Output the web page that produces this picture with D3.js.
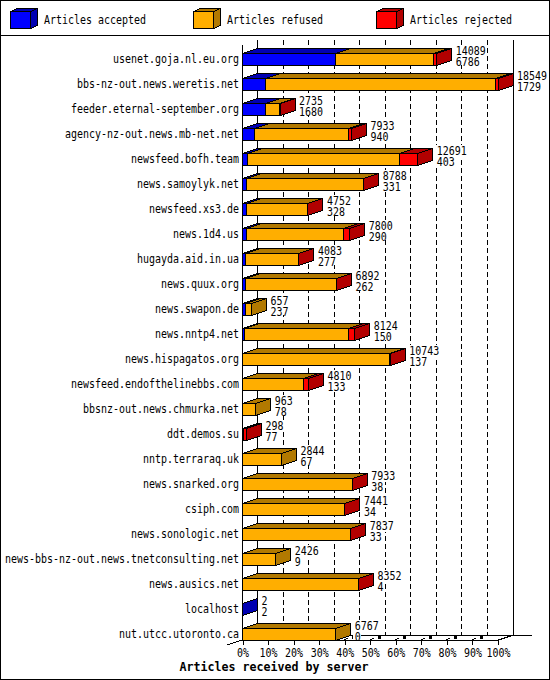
<!DOCTYPE html>
<html>
<head>
<meta charset="utf-8">
<script src="https://cdn.jsdelivr.net/npm/d3@7"></script>
<style>
  html, body { margin: 0; padding: 0; background: #fff; }
  svg { display: block; }
  text { font-family: "DejaVu Sans Mono", monospace; font-size: 12px; fill: #000; }
  .title { font-weight: bold; }
</style>
</head>
<body>
<div id="chart"></div>
<script>
// Articles received by server

var servers = ["usenet.goja.nl.eu.org", "bbs-nz-out.news.weretis.net", "feeder.eternal-september.org",
  "agency-nz-out.news.mb-net.net", "newsfeed.bofh.team", "news.samoylyk.net", "newsfeed.xs3.de",
  "news.1d4.us", "hugayda.aid.in.ua", "news.quux.org", "news.swapon.de", "news.nntp4.net",
  "news.hispagatos.org", "newsfeed.endofthelinebbs.com", "bbsnz-out.news.chmurka.net", "ddt.demos.su",
  "nntp.terraraq.uk", "news.snarked.org", "csiph.com", "news.sonologic.net",
  "news-bbs-nz-out.news.tnetconsulting.net", "news.ausics.net", "localhost", "nut.utcc.utoronto.ca"];

// widths in percent
var acceptedPct = [36.4, 8.9, 8.9, 4.6, 1.9, 1.6, 1.6, 1.6, 1.1, 1.1, 1.1, 0.8, 0, 0, 0, 0, 0, 0, 0, 0, 0, 0, 0.01, 0];
var refusedPct = [38.3, 90.2, 5.7, 36.8, 59.6, 45.8, 23.9, 38.0, 20.9, 35.6, 2.4, 40.8, 57.7, 23.9, 5.2, 0.4, 15.3, 42.9, 40.0, 42.3, 13.0, 45.3, 0, 36.5];
var rejectedPct = [1.3, 0.9, 0.1, 1.3, 7.1, 0.1, 0.1, 2.4, 0.1, 0.1, 0, 2.3, 0.1, 1.9, 0, 1.2, 0, 0.1, 0.1, 0.1, 0, 0.1, 0, 0];

var totalLabels = [14089, 18549, 2735, 7933, 12691, 8788, 4752, 7800, 4083, 6892, 657, 8124, 10743, 4810, 963, 298, 2844, 7933, 7441, 7837, 2426, 8352, 2, 6767];
var secondLabels = [6786, 1729, 1680, 940, 403, 331, 328, 290, 277, 262, 237, 150, 137, 133, 78, 77, 67, 38, 34, 33, 9, 4, 2, 0];

var seriesNames = ["Articles accepted", "Articles refused", "Articles rejected"];
var seriesKeys = ["accepted", "refused", "rejected"];
var xTicks = [0, 10, 20, 30, 40, 50, 60, 70, 80, 90, 100];

var fronts = ["#0000ff", "#ffae00", "#ff0000"];
var sides = ["#0000b2", "#b27900", "#b20000"];

var width = 550, height = 680;
var depthX = 15, depthY = 5;
var floorY = 640;
var charWidth = 6;

var svg = d3.select("#chart").append("svg")
  .attr("width", width)
  .attr("height", height)
  .attr("shape-rendering", "crispEdges");

svg.append("rect")
  .attr("x", 0.5).attr("y", 0.5)
  .attr("width", width - 1).attr("height", height - 1)
  .attr("fill", "#fff").attr("stroke", "#000");

var x = d3.scaleLinear().domain([0, 100]).range([242.5, 498]);
var y = d3.scaleBand().domain(servers).range([47, 647]).paddingInner(0.52).paddingOuter(0.26);

// snap to the middle of a pixel so that outlines stay one pixel wide
function px(v) { return Math.round(v - 0.5) + 0.5; }

function line(g, x1, y1, x2, y2) {
  return g.append("line")
    .attr("x1", x1).attr("y1", y1)
    .attr("x2", x2).attr("y2", y2)
    .attr("stroke", "#000");
}

// the original font is narrow and tall, so squeeze the glyphs to a fixed cell
function fitText(sel, cell) {
  sel.attr("font-family", null)
    .attr("font-size", null)
    .attr("lengthAdjust", "spacingAndGlyphs")
    .attr("textLength", function() { return this.textContent.length * cell; });
}

// Legend
var legendX = [10.5, 193.5, 376.5];
var legendText = [44, 227, 410];
var legend = svg.append("g");
seriesNames.forEach(function(name, i) {
  var x0 = legendX[i], x1 = x0 + 20, top = 11.5, bottom = 28.5, dx = 7, dy = 3;
  legend.append("path")
    .attr("d", "M" + x0 + "," + top + "L" + (x0 + dx) + "," + (top - dy) + "H" + (x1 + dx) + "L" + x1 + "," + top + "Z")
    .attr("fill", sides[i]).attr("stroke", "#000");
  legend.append("path")
    .attr("d", "M" + x1 + "," + top + "L" + (x1 + dx) + "," + (top - dy) + "V" + (bottom - dy) + "L" + x1 + "," + bottom + "Z")
    .attr("fill", sides[i]).attr("stroke", "#000");
  legend.append("rect")
    .attr("x", x0).attr("y", top)
    .attr("width", x1 - x0).attr("height", bottom - top)
    .attr("fill", fronts[i]).attr("stroke", "#000");
  legend.append("text")
    .attr("x", legendText[i]).attr("y", 20)
    .attr("dy", "0.35em")
    .text(name)
    .call(fitText, charWidth);
});
line(svg, 0, 35.5, width, 35.5);

// Walls and grid
var grid = svg.append("g");
line(grid, px(x(0)), 45, px(x(0)), floorY);
line(grid, px(x(0)) + depthX, 40, px(x(0)) + depthX, floorY - depthY);
line(grid, px(x(100)) + depthX, 40, px(x(100)) + depthX, floorY - depthY);
line(grid, px(x(0)) + depthX, floorY - depthY + 0.5, 532, floorY - depthY + 0.5);
line(grid, px(x(0)), floorY + 0.5, px(x(100)), floorY + 0.5);
line(grid, 227, floorY + depthY, px(x(0)), floorY);
line(grid, px(x(100)), floorY, px(x(100)) + depthX, floorY - depthY);

xTicks.slice(1, -1).forEach(function(t) {
  var gx = px(x(t));
  line(grid, gx + depthX, 40, gx + depthX, floorY - depthY).attr("stroke-dasharray", "5 3");
  // what shows of the floor ticks between the two axis lines
  line(grid, gx, floorY, gx + 3, floorY - 2);
  grid.append("rect")
    .attr("x", gx + 7).attr("y", floorY - 4)
    .attr("width", 3).attr("height", 3)
    .attr("fill", "#000");
});

// Axes
var xAxis = d3.axisBottom(x)
  .tickValues(xTicks)
  .tickSize(5)
  .tickPadding(3)
  .tickFormat(function(d) { return d + "%"; });

svg.append("g")
  .attr("transform", "translate(0," + floorY + ")")
  .call(xAxis)
  .call(function(g) { g.select(".domain").remove(); })
  .call(function(g) { fitText(g.selectAll("text"), charWidth); });

var yAxis = d3.axisLeft(y).tickSize(0).tickPadding(4);

svg.append("g")
  .attr("transform", "translate(243,0)")
  .call(yAxis)
  .call(function(g) { g.select(".domain").remove(); })
  .call(function(g) { fitText(g.selectAll("text"), charWidth); });

// Bars
var rows = servers.map(function(name, i) {
  return { name: name, accepted: acceptedPct[i], refused: refusedPct[i], rejected: rejectedPct[i], index: i };
});
var stacked = d3.stack().keys(seriesKeys)(rows);

var bars = svg.append("g");
rows.forEach(function(row, r) {
  var g = bars.append("g");
  var yTop = y(row.name);
  var yBottom = yTop + y.bandwidth();
  var last = -1;
  seriesKeys.forEach(function(key, s) { if (row[key] > 0) last = s; });

  seriesKeys.forEach(function(key, s) {
    if (row[key] <= 0) return;
    var x0 = px(x(stacked[s][r][0]));
    var x1 = px(x(stacked[s][r][1]));
    // top face
    g.append("path")
      .attr("d", "M" + x0 + "," + yTop + "L" + (x0 + depthX) + "," + (yTop - depthY) +
        "H" + (x1 + depthX) + "L" + x1 + "," + yTop + "Z")
      .attr("fill", sides[s]).attr("stroke", "#000");
    // side face of the last segment only
    if (s === last) {
      g.append("path")
        .attr("d", "M" + x1 + "," + yTop + "L" + (x1 + depthX) + "," + (yTop - depthY) +
          "V" + (yBottom - depthY) + "L" + x1 + "," + yBottom + "Z")
        .attr("fill", sides[s]).attr("stroke", "#000");
    }
    g.append("rect")
      .attr("x", x0).attr("y", yTop)
      .attr("width", x1 - x0).attr("height", y.bandwidth())
      .attr("fill", fronts[s]).attr("stroke", "#000");
  });
});

// Value labels sit on white boxes that hide the grid behind them
var labels = svg.append("g");
rows.forEach(function(row, r) {
  var yTop = y(row.name);
  var endX = x(stacked[2][r][1]) + depthX + 4;
  [[totalLabels[r], yTop - 8.5, 11.5, yTop - 3], [secondLabels[r], yTop + 3, 8.5, yTop + 8]].forEach(function(d) {
    var text = String(d[0]);
    labels.append("rect")
      .attr("x", Math.floor(endX) - 1).attr("y", d[1])
      .attr("width", text.length * charWidth + 2).attr("height", d[2])
      .attr("fill", "#fff");
    labels.append("text")
      .attr("x", endX).attr("y", d[3])
      .attr("dy", "0.35em")
      .text(text)
      .call(fitText, charWidth);
  });
});

svg.append("text")
  .attr("class", "title")
  .attr("x", 274).attr("y", 667)
  .attr("dy", "0.35em")
  .attr("text-anchor", "middle")
  .text("Articles received by server")
  .call(fitText, 7);
</script>
</body>
</html>
